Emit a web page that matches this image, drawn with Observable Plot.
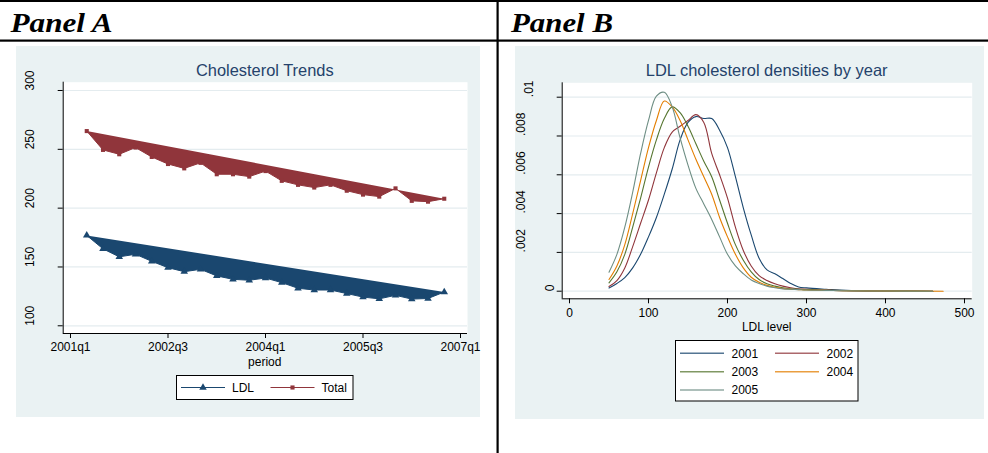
<!DOCTYPE html>
<html>
<head>
<meta charset="utf-8">
<script src="https://cdn.jsdelivr.net/npm/d3@7"></script>
<script src="https://cdn.jsdelivr.net/npm/@observablehq/plot@0.6"></script>
<style>
  body { margin: 0; background: #fff; }
  #root { position: relative; width: 988px; height: 453px; overflow: hidden; font-family: "Liberation Sans", Arial, sans-serif; }
  .abs { position: absolute; }
  .bg { background: #eaf2f3; }
</style>
</head>
<body>
<div id="root">
  <div class="abs bg" style="left:16px;top:46px;width:464px;height:371px"></div>
  <div class="abs bg" style="left:515px;top:46px;width:469px;height:373px"></div>
  <div id="plotA" class="abs" style="left:16px;top:46px"></div>
  <div id="plotB" class="abs" style="left:515px;top:46px"></div>
  <svg id="overlay" class="abs" style="left:0;top:0" width="988" height="453"></svg>
</div>
<script>
// ---------- Panel A data ----------
const periods = ["2001q2","2001q3","2001q4","2002q1","2002q2","2002q3","2002q4","2003q1","2003q2","2003q3","2003q4","2004q1","2004q2","2004q3","2004q4","2005q1","2005q2","2005q3","2005q4","2006q1","2006q2","2006q3","2006q4"];
const ldl   = [176.8,165.4,158.6,160.8,154.8,149.4,146.0,148.0,142.4,139.5,138.7,140.6,136.7,131.9,130.4,130.4,127.4,124.4,122.9,125.9,122.7,123.2,128.7];
const total = [265.5,249.5,245.8,251.5,243.5,237.5,233.8,238.5,228.8,228.8,226.8,231.5,223.2,219.8,217.5,219.8,214.8,211.5,209.8,216.8,206.2,205.5,208.0];
const seriesNames = ["LDL", "Total"];
const xTickLabelsA = ["2001q1","2002q3","2004q1","2005q3","2007q1"];
const yTicksA = [100,150,200,250,300];
const titleA = "Cholesterol Trends";
const xTitleA = "period";

// ---------- Panel B data ----------
const years = ["2001","2002","2003","2004","2005"];
const ldlGrid = [50,60,70,80,90,100,110,120,130,140,150,160,170,180,190,200,210,220,230,240,250,260,270,280,290,300,325,350,400];
const endLevel = [460,460,460,473,460];
const d2001 = [.00017,.0004,.0007,.0012,.0019,.0028,.0038,.0050,.0063,.0078,.0087,.0090,.0089,.0089,.0083,.0074,.0059,.0043,.0029,.0017,.0011,.0009,.00065,.0004,.00022,.00017,.0001,.00004,.00001];
const d2002 = [.00024,.00055,.0012,.0023,.0035,.0047,.0061,.0074,.0082,.0085,.0088,.0091,.0087,.0071,.0060,.0048,.0033,.0021,.0013,.0008,.00055,.00038,.00026,.00018,.00012,.0001,.00006,.00003,.00001];
const d2003 = [.00043,.0010,.0019,.0033,.0048,.0064,.0078,.0089,.0095,.0092,.0085,.0076,.0067,.0059,.0047,.0035,.0024,.0016,.0010,.0006,.00038,.00026,.00018,.00012,.0001,.00008,.00005,.00003,.00001];
const d2004 = [.0006,.0013,.0024,.0040,.0057,.0074,.0088,.0098,.0095,.0088,.0078,.0068,.0059,.0050,.0038,.0028,.0019,.0012,.00072,.00046,.0003,.0002,.00014,.0001,.00008,.00006,.00004,.00002,.00001];
const d2005 = [.00098,.0019,.0033,.0051,.0071,.0088,.01005,.01025,.0095,.0079,.0065,.0053,.0045,.0037,.0028,.0019,.0013,.0009,.00058,.0004,.00026,.00018,.00012,.0001,.00008,.00006,.00004,.00002,.00001];
const xTicksB = [0,100,200,300,400,500];
const yTicksB = [0,.002,.004,.006,.008,.01];
const yTickLabelsB = ["0",".002",".004",".006",".008",".01"];
const titleB = "LDL cholesterol densities by year";
const xTitleB = "LDL level";

// ---------- styling ----------
const navy = "#1a476f", maroon = "#90353b";
const seriesColors = [navy, maroon];
const yearColors = ["#1a476f","#90353b","#55752f","#e37e00","#6e8e84"];
const gridColor = "#e4ecef";
const FONT = "'Liberation Sans', Arial, sans-serif";

// ---------- Panel A ----------
const qIndex = s => (+s.slice(0,4) - 2001) * 4 + (+s.slice(5) - 1);
const rowsLDL = periods.map((p,i) => ({q: qIndex(p), v: ldl[i]}));
const rowsTot = periods.map((p,i) => ({q: qIndex(p), v: total[i]}));
const xTickPosA = xTickLabelsA.map(qIndex);
const xDomA = [-0.449, 24.43];
const yDomA = [93.45, 307.05];

const plotA = Plot.plot({
  width: 464, height: 371,
  marginLeft: 46.7, marginRight: 13, marginTop: 35.7, marginBottom: 84,
  x: {domain: xDomA},
  y: {domain: yDomA},
  style: {background: "transparent", color: "black", fontFamily: FONT, fontSize: "12px", overflow: "visible"},
  marks: [
    Plot.frame({fill: "white", stroke: "none"}),
    Plot.ruleY(yTicksA, {stroke: gridColor, strokeWidth: 1.2}),
    Plot.line(rowsTot, {x: "q", y: "v", fill: maroon, stroke: maroon, strokeWidth: 1}),
    Plot.line(rowsLDL, {x: "q", y: "v", fill: navy, stroke: navy, strokeWidth: 1}),
    Plot.dot(rowsTot, {x: "q", y: "v", symbol: "square", r: 2.3, fill: maroon, stroke: "none"}),
    Plot.dot(rowsLDL, {x: "q", y: "v", symbol: "triangle", r: 2.8, fill: navy, stroke: "none"}),
    Plot.ruleX([xDomA[0]], {stroke: "black", strokeWidth: 1}),
    Plot.ruleY([yDomA[0]], {stroke: "black", strokeWidth: 1}),
    Plot.axisX({ticks: xTickPosA, tickFormat: d => xTickLabelsA[xTickPosA.indexOf(d)], tickSize: 5, tickPadding: 4, label: null, fontSize: 12}),
    Plot.axisY({ticks: yTicksA, tickSize: 5, tickFormat: () => "", label: null}),
    Plot.text(yTicksA, {y: d => d, text: d => String(d), frameAnchor: "left", dx: -32.7, rotate: -90, lineAnchor: "middle", fontSize: 12, fill: "black"})
  ]
});
document.getElementById("plotA").appendChild(plotA);

// ---------- Panel B ----------
const dens = [d2001, d2002, d2003, d2004, d2005];
const densRows = years.flatMap((yr, k) => [
  ...ldlGrid.map((lv, i) => ({year: yr, level: lv, density: dens[k][i]})),
  {year: yr, level: endLevel[k], density: 0}
]);
const xDomB = [-9.24, 509.75];
const yDomB = [-0.000392, 0.010742];

const plotB = Plot.plot({
  width: 469, height: 373,
  marginLeft: 46.7, marginRight: 12.3, marginTop: 36.3, marginBottom: 120.7,
  x: {domain: xDomB},
  y: {domain: yDomB},
  color: {domain: years, range: yearColors},
  style: {background: "transparent", color: "black", fontFamily: FONT, fontSize: "12px", overflow: "visible"},
  marks: [
    Plot.frame({fill: "white", stroke: "none"}),
    Plot.ruleY(yTicksB, {stroke: gridColor, strokeWidth: 1.2}),
    Plot.line(densRows, {x: "level", y: "density", z: "year", stroke: "year", curve: "catmull-rom", strokeWidth: 1.1}),
    Plot.ruleX([xDomB[0]], {stroke: "black", strokeWidth: 1}),
    Plot.ruleY([yDomB[0]], {stroke: "black", strokeWidth: 1}),
    Plot.axisX({ticks: xTicksB, tickSize: 5, tickPadding: 4.5, label: null, fontSize: 12}),
    Plot.axisY({ticks: yTicksB, tickSize: 5, tickFormat: () => "", label: null}),
    Plot.text(yTicksB.filter(d => d > 0 && d < .01), {y: d => d, text: d => yTickLabelsB[yTicksB.indexOf(d)], frameAnchor: "left", dx: -41.5, rotate: -90, lineAnchor: "middle", fontSize: 12, fill: "black"}),
    Plot.text(yTicksB.filter(d => d >= .01), {y: d => d, text: d => yTickLabelsB[yTicksB.indexOf(d)], frameAnchor: "left", dx: -32.7, rotate: -90, lineAnchor: "middle", fontSize: 12, fill: "black"}),
    Plot.text(yTicksB.filter(d => d === 0), {y: d => d, text: d => yTickLabelsB[yTicksB.indexOf(d)], frameAnchor: "left", dx: -12.5, rotate: -90, lineAnchor: "middle", fontSize: 12, fill: "black"})
  ]
});
document.getElementById("plotB").appendChild(plotB);

// ---------- overlay: table rules, headers, titles, legends ----------
const ov = d3.select("#overlay");
ov.append("rect").attr("x", 0).attr("y", 0).attr("width", 988).attr("height", 2).attr("fill", "black");
ov.append("rect").attr("x", 0).attr("y", 39.5).attr("width", 988).attr("height", 2.2).attr("fill", "black");
ov.append("rect").attr("x", 496.5).attr("y", 0).attr("width", 2.2).attr("height", 453).attr("fill", "black");

const hdr = (x, t) => ov.append("text").attr("x", x).attr("y", 32)
  .attr("font-family", "'Liberation Serif','Times New Roman',serif").attr("font-weight", "bold").attr("font-style", "italic")
  .attr("font-size", 27).attr("textLength", 102).attr("lengthAdjust", "spacingAndGlyphs").text(t);
hdr(10.5, "Panel A");
hdr(511, "Panel B");

const ttl = (x, t, len) => ov.append("text").attr("x", x).attr("y", 76).attr("text-anchor", "middle")
  .attr("font-family", FONT).attr("font-size", 16.5).attr("fill", "#25426b")
  .attr("textLength", len).attr("lengthAdjust", "spacingAndGlyphs").text(t);
ttl(264.8, titleA, 137.7);
ttl(766.7, titleB, 241.7);

const lab = (x, y, t, anchor="middle") => ov.append("text").attr("x", x).attr("y", y).attr("text-anchor", anchor)
  .attr("font-family", FONT).attr("font-size", 12).attr("fill", "black").text(t);
lab(264.8, 365.5, xTitleA);
lab(766.7, 331, xTitleB);

// Legend A
ov.append("rect").attr("x", 176.5).attr("y", 375.5).attr("width", 176.5).attr("height", 24)
  .attr("fill", "white").attr("stroke", "black").attr("stroke-width", 1);
const legA = [{x0: 181, sym: "triangle"}, {x0: 270.5, sym: "square"}];
seriesNames.forEach((name, i) => {
  const x0 = legA[i].x0, y = 387.5, c = seriesColors[i];
  ov.append("line").attr("x1", x0).attr("x2", x0 + 44).attr("y1", y).attr("y2", y).attr("stroke", c).attr("stroke-width", 1);
  const sym = legA[i].sym === "triangle" ? d3.symbolTriangle : d3.symbolSquare;
  ov.append("path").attr("d", d3.symbol(sym, legA[i].sym === "triangle" ? 24 : 17)()).attr("transform", `translate(${x0 + 22},${y})`).attr("fill", c);
  lab(x0 + 51, y + 4.3, name, "start");
});

// Legend B
ov.append("rect").attr("x", 675.5).attr("y", 340.5).attr("width", 182.5).attr("height", 60.5)
  .attr("fill", "white").attr("stroke", "black").attr("stroke-width", 1);
const colX = [680, 775], rowY = [353.3, 371.7, 390];
years.forEach((yr, i) => {
  const x0 = colX[i % 2], y = rowY[Math.floor(i / 2)];
  ov.append("line").attr("x1", x0).attr("x2", x0 + 44).attr("y1", y).attr("y2", y).attr("stroke", yearColors[i]).attr("stroke-width", 1.4).attr("stroke-opacity", 0.75);
  lab(x0 + 51.5, y + 4.3, yr, "start");
});
</script>
</body>
</html>
